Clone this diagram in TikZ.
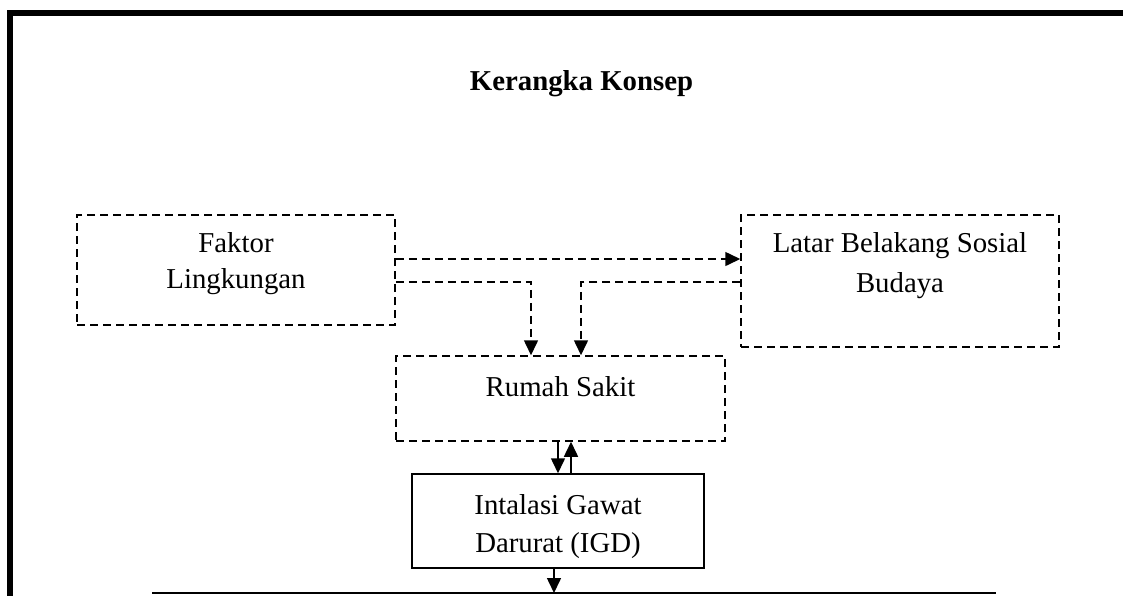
\documentclass[tikz,border=0pt]{standalone}
\usepackage{fontspec}
\setmainfont{Liberation Serif}
\usetikzlibrary{arrows.meta}
\begin{document}
\begin{tikzpicture}[x=1pt,y=-1pt,
  dbox/.style={draw,line width=1.5pt,dash pattern=on 8pt off 5pt,minimum width=#1,inner sep=0pt},
  sbox/.style={draw,line width=1.5pt,inner sep=0pt},
  txt/.style={anchor=base,inner sep=0pt,font=\fontsize{28.8}{36}\selectfont},
  darr/.style={line width=1.5pt,dash pattern=on 8pt off 5pt,-{Triangle[length=15pt,width=14pt]}},
  sarr/.style={line width=1.5pt,-{Triangle[length=15pt,width=14pt]}}]
\useasboundingbox (0,0) rectangle (1123,595);
% frame
\draw[line width=6pt] (10,598) -- (10,13) -- (1126,13);
% title
\node[txt,font=\fontsize{28.8}{36}\selectfont\bfseries] (title) at (581.5,90) {Kerangka Konsep};
% boxes
\node[dbox=318pt,minimum height=110pt] (faktor) at (236,270) {};
\node[dbox=318pt,minimum height=132pt] (latar) at (900,281) {};
\node[dbox=329pt,minimum height=85pt] (rumah) at (560.5,398.5) {};
\node[sbox,minimum width=292pt,minimum height=94pt] (igd) at (558,521) {};
% texts
\node[txt] (f1) at (236,252) {Faktor};
\node[txt] (f2) at (236,288) {Lingkungan};
\node[txt] (l1) at (900,252) {Latar Belakang Sosial};
\node[txt] (l2) at (900,292) {Budaya};
\node[txt] (r1) at (560.5,396) {Rumah Sakit};
\node[txt] (i1) at (558,514) {Intalasi Gawat};
\node[txt] (i2) at (558,552) {Darurat (IGD)};
% bottom line
\coordinate (bl) at (152,593);
\coordinate (br) at (996,593);
\draw[line width=1.5pt] (bl) -- (br);
% connectors
\draw[darr] ([yshift=11pt]faktor.east) -- ([yshift=11pt]faktor.east -| latar.west);
\draw[darr] ([yshift=-12pt]faktor.east) -| ([xshift=-29.5pt]rumah.north);
\draw[darr] ([yshift=-1pt]latar.west) -| ([xshift=20.5pt]rumah.north);
\draw[sarr] (igd.north |- rumah.south) -- (igd.north);
\draw[sarr] ([xshift=13pt]igd.north) -- ([xshift=13pt]igd.north |- rumah.south);
\draw[sarr] ([xshift=-4pt]igd.south) -- ([xshift=-4pt]igd.south |- bl);
\end{tikzpicture}
\end{document}
